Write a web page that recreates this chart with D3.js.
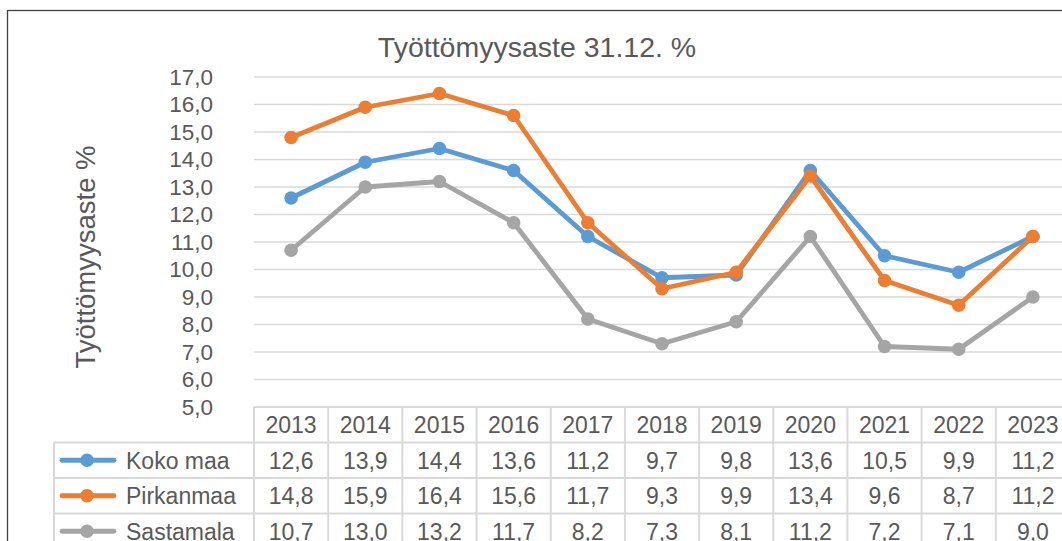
<!DOCTYPE html>
<html lang="fi">
  <head>
    <meta charset="utf-8" />
    <title>Työttömyysaste</title>
    <script src="https://cdn.jsdelivr.net/npm/d3@7"></script>
    <style>
      body { margin: 0; background: white; }
      svg { display: block; font-family: "Liberation Sans", Arial, sans-serif; }
    </style>
  </head>
  <body>
    <script>
      // data
      const years = ["2013", "2014", "2015", "2016", "2017", "2018", "2019", "2020", "2021", "2022", "2023"];
      const seriesNames = ["Koko maa", "Pirkanmaa", "Sastamala"];
      const kokoMaa = [12.6, 13.9, 14.4, 13.6, 11.2, 9.7, 9.8, 13.6, 10.5, 9.9, 11.2];
      const pirkanmaa = [14.8, 15.9, 16.4, 15.6, 11.7, 9.3, 9.9, 13.4, 9.6, 8.7, 11.2];
      const sastamala = [10.7, 13.0, 13.2, 11.7, 8.2, 7.3, 8.1, 11.2, 7.2, 7.1, 9.0];
      const yTicks = [5, 6, 7, 8, 9, 10, 11, 12, 13, 14, 15, 16, 17];
      const colors = ["#5b9bd5", "#ed7d31", "#a5a5a5"];

      const series = [kokoMaa, pirkanmaa, sastamala].map((vals, i) => ({
        name: seriesNames[i], values: vals, color: colors[i]
      }));

      const width = 1062, height = 541;
      const textColor = "#595959";
      const gridColor = "#d9d9d9";

      const svg = d3.select("body").append("svg")
        .attr("width", width)
        .attr("height", height);

      // outer chart border (right and bottom are cut off in the picture)
      svg.append("rect")
        .attr("x", 7.5).attr("y", 10.5)
        .attr("width", 1100).attr("height", 600)
        .attr("fill", "none")
        .attr("stroke", "#404040")
        .attr("stroke-width", 1.3);

      const x = d3.scaleBand().domain(years).range([254, 1070]);
      const y = d3.scaleLinear().domain([5, 17]).range([407, 77]);
      const fmt = v => d3.format(".1f")(v).replace(".", ",");

      // gridlines
      svg.append("g")
        .selectAll("line")
        .data(yTicks.slice(1))
        .join("line")
        .attr("x1", 254).attr("x2", 1070)
        .attr("y1", d => y(d)).attr("y2", d => y(d))
        .attr("stroke", gridColor)
        .attr("stroke-width", 1.5);

      // y axis labels
      const yAxis = svg.append("g")
        .attr("transform", "translate(254,0)")
        .call(d3.axisLeft(y).tickValues(yTicks).tickFormat(fmt).tickSize(0).tickPadding(41));
      yAxis.select(".domain").remove();
      yAxis.selectAll("text")
        .attr("fill", textColor)
        .style("font-size", "22.5px")
        .style("font-family", "Liberation Sans, Arial, sans-serif");

      // titles
      svg.append("text")
        .attr("x", 537).attr("y", 57)
        .attr("text-anchor", "middle")
        .attr("fill", textColor)
        .style("font-size", "28.5px")
        .text("Työttömyysaste 31.12. %");

      svg.append("text")
        .attr("transform", "translate(95,257) rotate(-90)")
        .attr("text-anchor", "middle")
        .attr("fill", textColor)
        .style("font-size", "27.5px")
        .text("Työttömyysaste %");

      // lines and markers
      const line = d3.line()
        .x((d, i) => x(years[i]) + x.bandwidth() / 2)
        .y(d => y(d));

      const sg = svg.append("g")
        .selectAll("g")
        .data(series)
        .join("g");

      sg.append("path")
        .attr("d", d => line(d.values))
        .attr("fill", "none")
        .attr("stroke", d => d.color)
        .attr("stroke-width", 4.8)
        .attr("stroke-linejoin", "round");

      sg.selectAll("circle")
        .data(d => d.values.map((v, i) => ({ v, i, color: d.color })))
        .join("circle")
        .attr("cx", d => x(years[d.i]) + x.bandwidth() / 2)
        .attr("cy", d => y(d.v))
        .attr("r", 6.8)
        .attr("fill", d => d.color);

      // data table
      const headTop = 407, rowH = 35.5, legendLeft = 54;
      const table = svg.append("g");
      const rowTop = i => headTop + rowH * (i + 1);

      // horizontal borders
      table.append("line")
        .attr("x1", 254).attr("x2", 1070)
        .attr("y1", headTop).attr("y2", headTop);
      table.selectAll(".hrow")
        .data(d3.range(series.length + 1))
        .join("line")
        .attr("x1", legendLeft).attr("x2", 1070)
        .attr("y1", i => rowTop(i)).attr("y2", i => rowTop(i));
      // vertical borders
      table.selectAll(".vcol")
        .data(d3.range(years.length + 1))
        .join("line")
        .attr("x1", i => 254 + i * x.bandwidth())
        .attr("x2", i => 254 + i * x.bandwidth())
        .attr("y1", headTop).attr("y2", height + 20);
      table.append("line")
        .attr("x1", legendLeft).attr("x2", legendLeft)
        .attr("y1", rowTop(0)).attr("y2", height + 20);
      table.selectAll("line")
        .attr("stroke", gridColor)
        .attr("stroke-width", 2);

      const cellText = table.append("g")
        .attr("fill", textColor)
        .style("font-size", "23px")
        .attr("text-anchor", "middle");

      cellText.selectAll(".yr")
        .data(years)
        .join("text")
        .attr("x", d => x(d) + x.bandwidth() / 2)
        .attr("y", headTop + rowH / 2)
        .attr("dy", "0.36em")
        .text(d => d);

      series.forEach((s, r) => {
        const cy = rowTop(r) + rowH / 2;
        cellText.append("g")
          .selectAll("text")
          .data(s.values)
          .join("text")
          .attr("x", (d, i) => x(years[i]) + x.bandwidth() / 2)
          .attr("y", cy)
          .attr("dy", "0.36em")
          .text(d => fmt(d));

        const leg = table.append("g");
        leg.append("line")
          .attr("x1", 62).attr("x2", 114)
          .attr("y1", cy).attr("y2", cy)
          .attr("stroke", s.color)
          .attr("stroke-width", 4.8)
          .attr("stroke-linecap", "round");
        leg.append("circle")
          .attr("cx", 87).attr("cy", cy).attr("r", 6.8)
          .attr("fill", s.color);
        leg.append("text")
          .attr("x", 126).attr("y", cy)
          .attr("dy", "0.36em")
          .attr("fill", textColor)
          .style("font-size", "23px")
          .text(s.name);
      });
    </script>
  </body>
</html>
